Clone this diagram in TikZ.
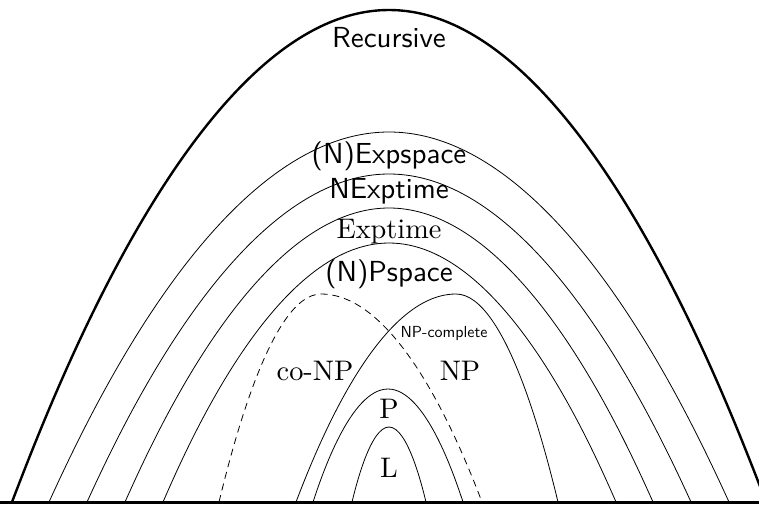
\documentclass[tikz,border=0pt]{standalone}
\usepackage{fontspec}
\newfontfamily\lmromten{lmroman10-regular}[Extension=.otf]
\newfontfamily\lmsansten{lmsans10-regular}[Extension=.otf]
\begin{document}
\begin{tikzpicture}[x=1pt,y=-1pt,
  arch/.style={line width=0.8pt},
  outerarch/.style={line width=2.4pt},
  dasharch/.style={line width=0.8pt,dash pattern=on 7pt off 5pt},
  sanslab/.style={font=\fontsize{29}{34}\selectfont\lmsansten,anchor=base,inner sep=0pt},
  seriflab/.style={font=\fontsize{28.3}{34}\selectfont\lmromten,anchor=base,inner sep=0pt},
  smalllab/.style={font=\fontsize{16}{19}\selectfont\lmsansten,anchor=base,inner sep=0pt}]
\useasboundingbox (0,0) rectangle (759,504);
% outer bold arch and baseline
\draw[outerarch] (12,502) parabola bend (389,10) (766,502);
\draw[line width=2.4pt] (-5,502.5) -- (770,502.5);
% nested arches
\draw[arch] (49,502) parabola bend (389,132) (729,502);
\draw[arch] (87,502) parabola bend (389,174) (691,502);
\draw[arch] (125,502) parabola bend (389,208) (653,502);
\draw[arch] (163,502) parabola bend (389,243) (616,502);
% NP and co-NP
\draw[arch] (296,502) parabola bend (456,294) (558,502);
\draw[dasharch] (219,502) parabola bend (321,294) (482,502);
% P and L
\draw[arch] (313,502) parabola bend (388,389) (463,502);
\draw[arch] (352,502) parabola bend (389,427) (426,502);
% labels
\node[sanslab] (rec) at (389,47) {Recursive};
\node[sanslab] (expspace) at (389,163) {(N)Expspace};
\node[sanslab] (nexptime) at (389,198) {NExptime};
\node[seriflab] (exptime) at (389,238) {Exptime};
\node[sanslab] (pspace) at (389,281) {(N)Pspace};
\node[smalllab] (npc) at (444,337) {NP-complete};
\node[seriflab] (conp) at (315,380) {co-NP};
\node[seriflab] (np) at (460,380) {NP};
\node[seriflab] (p) at (389,418) {P};
\node[seriflab] (l) at (389,477) {L};
\end{tikzpicture}
\end{document}
